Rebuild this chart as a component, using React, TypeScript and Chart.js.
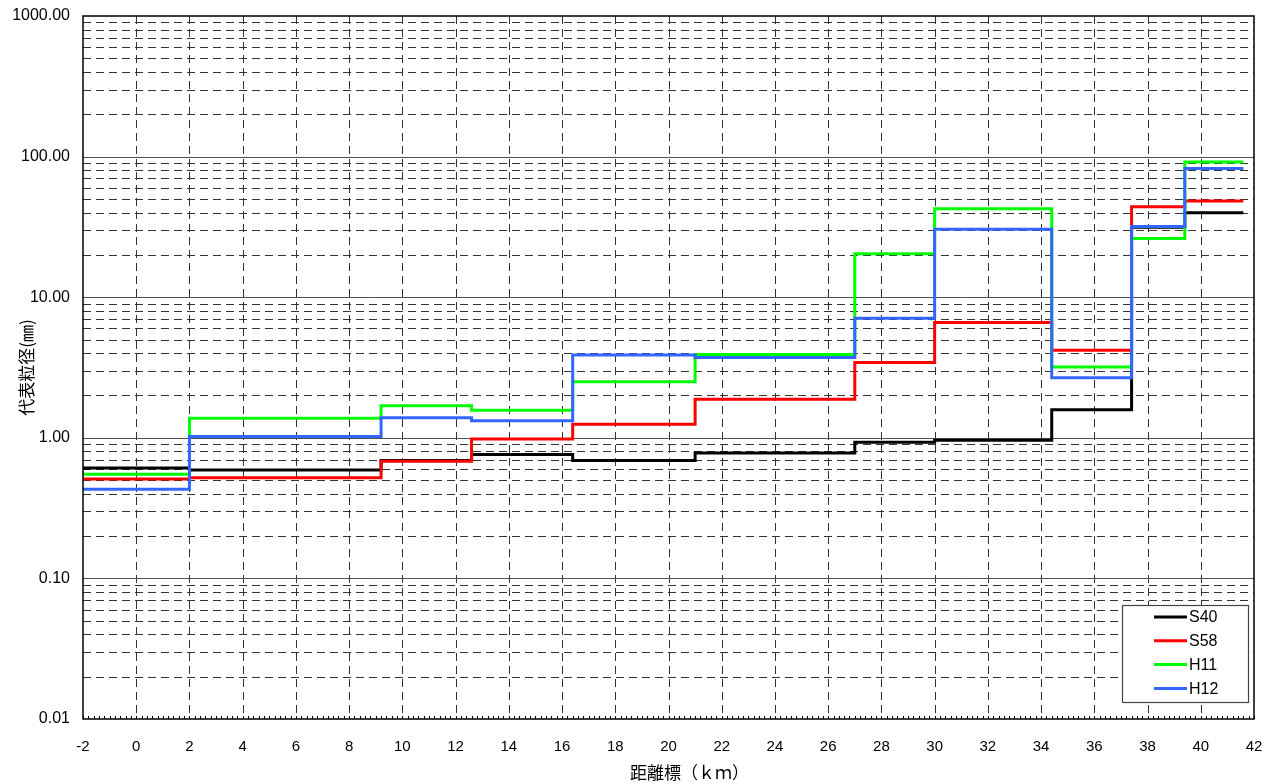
import React, { useEffect, useRef } from "react";
import { Chart, registerables } from "chart.js";

Chart.register(...registerables);

// Distance marks (km) where each step starts; the last entry is the end of the last step
const distanceBreaks = [-2, 2, 9.2, 12.6, 16.4, 21, 27, 30, 34.4, 37.4, 39.4, 41.6];

// Representative grain size (mm) for each step
const s40Values = [0.61, 0.59, 0.69, 0.76, 0.69, 0.78, 0.93, 0.96, 1.58, 31.5, 39.9];
const s58Values = [0.51, 0.52, 0.68, 0.98, 1.25, 1.88, 3.43, 6.6, 4.2, 44.0, 48.3];
const h11Values = [0.55, 1.38, 1.69, 1.57, 2.5, 3.92, 20.4, 42.6, 3.19, 26.1, 91.4];
const h12Values = [0.43, 1.02, 1.39, 1.32, 3.88, 3.72, 7.08, 30.4, 2.67, 31.8, 82.4];

const seriesNames = ["S40", "S58", "H11", "H12"];
const seriesColors = ["#000000", "#ff0000", "#00ff00", "#3366ff"];

const yTickValues = [0.01, 0.1, 1, 10, 100, 1000];
const xMin = -2;
const xMax = 42;
const xStep = 2;

const yTitle = "代表粒径(㎜)";
const xTitle = "距離標（ｋｍ）";

const FONT = '"Liberation Sans", Arial, "Noto Sans CJK JP", sans-serif';
const CJK_FONT = '"Noto Sans CJK JP", "Liberation Sans", sans-serif';

function toPoints(vals: number[]) {
  return distanceBreaks.map((x, i) => ({ x, y: vals[Math.min(i, vals.length - 1)] }));
}

const customPlugin = {
  id: "customGridLegend",
  beforeDatasetsDraw(chart: any) {
    const { ctx, chartArea } = chart;
    const { left, right, top, bottom } = chartArea;
    const xs = chart.scales.x;
    const ys = chart.scales.y;
    ctx.save();
    ctx.lineWidth = 1;
    // minor horizontal dashed lines
    ctx.strokeStyle = "#333333";
    ctx.setLineDash([8, 5]);
    for (let e = -2; e <= 2; e++) {
      for (let m = 2; m <= 9; m++) {
        const v = m * Math.pow(10, e);
        const py = Math.round(ys.getPixelForValue(v)) + 0.5;
        ctx.beginPath();
        ctx.moveTo(left, py);
        ctx.lineTo(right, py);
        ctx.stroke();
      }
    }
    // vertical dashed lines
    for (let v = xMin + xStep; v < xMax; v += xStep) {
      const px = Math.round(xs.getPixelForValue(v)) + 0.5;
      ctx.beginPath();
      ctx.moveTo(px, top);
      ctx.lineTo(px, bottom);
      ctx.stroke();
    }
    ctx.setLineDash([]);
    // decade lines
    ctx.strokeStyle = "#505050";
    for (const v of yTickValues.slice(1, -1)) {
      const py = Math.round(ys.getPixelForValue(v)) + 0.5;
      ctx.beginPath();
      ctx.moveTo(left, py);
      ctx.lineTo(right, py);
      ctx.stroke();
    }
    // minor x ticks
    ctx.strokeStyle = "#000000";
    for (let i = xMin * 5; i <= xMax * 5; i++) {
      const px = Math.round(xs.getPixelForValue(i / 5)) + 0.5;
      ctx.beginPath();
      ctx.moveTo(px, bottom);
      ctx.lineTo(px, bottom - 3);
      ctx.stroke();
    }
    ctx.restore();
  },
  afterDatasetsDraw(chart: any) {
    const { ctx, chartArea } = chart;
    const { left, right, top, bottom } = chartArea;
    ctx.save();
    // plot border
    ctx.strokeStyle = "#000000";
    ctx.lineWidth = 1.5;
    ctx.strokeRect(left, top, right - left, bottom - top);
    // legend
    const bx = right - 132;
    const by = bottom - 114;
    const bw = 126;
    const bh = 97;
    ctx.fillStyle = "#ffffff";
    ctx.fillRect(bx, by, bw, bh);
    ctx.strokeStyle = "#444444";
    ctx.lineWidth = 1.2;
    ctx.strokeRect(bx + 0.5, by + 0.5, bw, bh);
    ctx.font = "16px " + FONT;
    ctx.textBaseline = "middle";
    ctx.textAlign = "left";
    seriesNames.forEach((name, i) => {
      const cy = by + 12 + i * 23.8;
      ctx.strokeStyle = seriesColors[i];
      ctx.lineWidth = 3;
      ctx.beginPath();
      ctx.moveTo(bx + 32, cy);
      ctx.lineTo(bx + 65, cy);
      ctx.stroke();
      ctx.fillStyle = "#000000";
      ctx.fillText(name, bx + 67, cy + 1);
    });
    // x axis title
    ctx.font = "17px " + CJK_FONT;
    ctx.fillStyle = "#000000";
    ctx.textAlign = "center";
    ctx.textBaseline = "middle";
    ctx.fillText(xTitle, (left + right) / 2 + 21, 773);
    ctx.restore();
  },
};

export default function App() {
  const canvasRef = useRef<HTMLCanvasElement | null>(null);

  useEffect(() => {
    if (!canvasRef.current) return;
    const allValues = [s40Values, s58Values, h11Values, h12Values];
    const chart = new Chart(canvasRef.current, {
      type: "line",
      data: {
        datasets: seriesNames.map((name, i) => ({
          label: name,
          data: toPoints(allValues[i]),
          borderColor: seriesColors[i],
          backgroundColor: seriesColors[i],
          borderWidth: 3,
          pointRadius: 0,
          stepped: "before" as const,
          fill: false,
          order: seriesNames.length - 1 - i,
        })),
      },
      options: {
        animation: false,
        responsive: true,
        maintainAspectRatio: false,
        layout: { padding: { left: 0, right: 21, top: 16, bottom: 0 } },
        plugins: {
          legend: { display: false },
          tooltip: { enabled: false },
        },
        scales: {
          x: {
            type: "linear",
            min: xMin,
            max: xMax,
            grid: { display: false, drawTicks: true, tickLength: 19 },
            border: { display: false },
            ticks: {
              stepSize: xStep,
              autoSkip: false,
              maxRotation: 0,
              padding: 0,
              color: "#000000",
              font: { family: FONT, size: 15 },
            },
            afterFit: (scale: any) => {
              scale.height = 65;
            },
          },
          y: {
            type: "logarithmic",
            min: 0.01,
            max: 1000,
            grid: { display: false, drawTicks: true, tickLength: 13 },
            border: { display: false },
            afterBuildTicks: (scale: any) => {
              scale.ticks = yTickValues.map((v) => ({ value: v }));
            },
            ticks: {
              padding: 0,
              color: "#000000",
              font: { family: FONT, size: 16 },
              callback: (v: any) => Number(v).toFixed(2),
            },
            title: {
              display: true,
              text: yTitle,
              color: "#000000",
              font: { family: CJK_FONT, size: 17 },
              padding: { top: 16, bottom: 0 },
            },
            afterFit: (scale: any) => {
              scale.width = 83;
            },
          },
        },
      },
      plugins: [customPlugin],
    });
    return () => chart.destroy();
  }, []);

  return (
    <div style={{ position: "fixed", left: 0, top: 0, width: 1275, height: 784, background: "#ffffff" }}>
      <canvas ref={canvasRef} />
    </div>
  );
}
